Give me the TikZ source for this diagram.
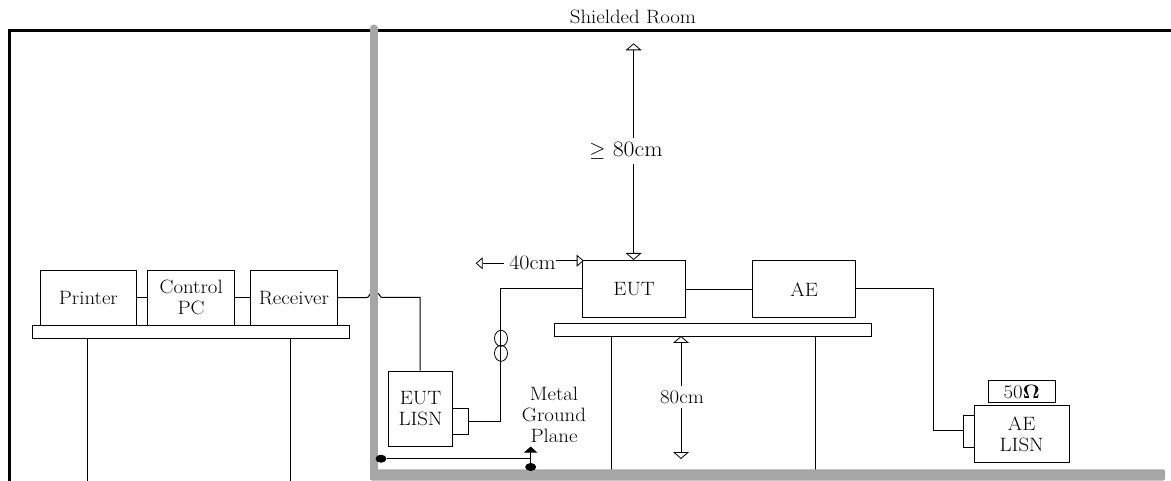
\documentclass[tikz,border=0pt]{standalone}
\usepackage{fontspec}
\setmainfont{Latin Modern Roman}[FakeStretch=1.08]
\usetikzlibrary{arrows.meta,shapes.geometric}
\tikzset{
  x=1pt,y=-1pt,
  wire/.style={draw=black,line width=1pt},
  boxn/.style={draw=black,line width=1pt,fill=white,inner sep=0pt,align=center,font=\fontsize{19.3}{21}\selectfont,anchor=north west},
  lab/.style={inner sep=0pt,align=center,font=\fontsize{19.3}{21}\selectfont},
  wall/.style={draw=black,line width=3pt},
  gwall/.style={draw=black!35,line cap=round,line join=round},
  tipo/.style={-{Triangle[open,fill=white,length=7pt,width=16pt]}},
  tips/.style={-{Triangle[open,fill=white,length=7pt,width=12pt]}},
  dim/.style={draw=black,line width=0.8pt},
  gdot/.style={ellipse,fill=black,draw=none,inner sep=0pt,minimum height=8pt,minimum width=11pt},
  coil/.style={ellipse,draw=black,line width=0.8pt,inner sep=0pt,minimum width=13pt,minimum height=16pt}
}
\begin{document}
\begin{tikzpicture}
\useasboundingbox (0,0) rectangle (1171,481);
% black room outline
\coordinate (wa) at (9,481);
\coordinate (wb) at (9,31);
\coordinate (wc) at (1171,31);
\draw[wall] (wa) -- (wb) -- (wc);
\node[lab] (room) at (633,17) {Shielded Room};
% left table
\node[boxn,minimum width=316.4pt,minimum height=13pt] (ltop) at (32.3,324.7) {};
\coordinate (l1) at (87.7,481);
\coordinate (l2) at (290.7,481);
\draw[wire] (ltop.south -| l1) -- (l1);
\draw[wire] (ltop.south -| l2) -- (l2);
\node[boxn,minimum width=95.7pt,minimum height=55pt] (printer) at (40,269.7) {Printer};
\node[boxn,minimum width=87.3pt,minimum height=55pt] (pc) at (147,269.7) {Control\\PC};
\node[boxn,minimum width=86.7pt,minimum height=55pt] (rcv) at (250,269.7) {Receiver};
\draw[wire] (printer.east) -- (pc.west);
\draw[wire] (pc.east) -- (rcv.west);
% right table
\node[boxn,minimum width=316.7pt,minimum height=12.7pt] (rtop) at (554.3,323.3) {};
\coordinate (r1) at (611.7,470);
\coordinate (r2) at (815.3,470);
\draw[wire] (rtop.south -| r1) -- (r1);
\draw[wire] (rtop.south -| r2) -- (r2);
\node[boxn,minimum width=102.7pt,minimum height=57pt] (eut) at (582.3,260.3) {EUT};
\node[boxn,minimum width=102.7pt,minimum height=57pt] (ae) at (752.3,260.3) {AE};
\draw[wire] (eut.east) -- (ae.west);
% LISNs
\node[boxn,minimum width=63.4pt,minimum height=75.6pt] (elisn) at (388.3,370.7) {EUT\\LISN};
\node[boxn,minimum width=16pt,minimum height=25.4pt] (eport) at (451.7,408.3) {};
\node[boxn,minimum width=95pt,minimum height=56.7pt] (alisn) at (973.7,405.3) {AE\\LISN};
\node[boxn,minimum width=10.7pt,minimum height=31.7pt] (aport) at (963,415.3) {};
\node[boxn,minimum width=67pt,minimum height=22.3pt] (ohm) at (987.7,380) {50\textbf{Ω}};
% wires
\coordinate (hopa) at (367,297.5);
\coordinate (hopb) at (382,297.5);
\coordinate (hopc) at (420,297.5);
\draw[wire] (rcv.east) -- (hopa) .. controls (369,297.5) and (369.5,293.5) .. (371,293.5) -- (378,293.5) .. controls (379.5,293.5) and (380,297.5) .. (hopb) -- (hopc) -- (elisn.north -| hopc);
\coordinate (wsa) at (500.3,289);
\coordinate (wsb) at (500.3,421);
\draw[wire] (eut.west |- wsa) -- (wsa) -- (wsb) -- (eport.east |- wsb);
\coordinate (wra) at (933.5,288.8);
\coordinate (wrb) at (933.5,430.7);
\draw[wire] (ae.east |- wra) -- (wra) -- (wrb) -- (aport.west |- wrb);
\node[coil] (coila) at (501,338.3) {};
\node[coil] (coilb) at (501,353.3) {};
% grey wall over the crossing wire
\coordinate (ga) at (374,28.5);
\coordinate (gb) at (374,472);
\draw[gwall,line width=8pt,line cap=round] (ga) -- (374,460);
\draw[gwall,line width=8pt,line cap=butt] (374,460) -- (gb);
\fill[black!35,rounded corners=2pt] (370,469.3) rectangle (1165,480.5);
% ground
\node[gdot] (gnda) at (381,458.7) {};
\node[gdot] (gndb) at (530.7,467) {};
\coordinate (gndj) at (530.7,458.7);
\coordinate (gndt) at (530.7,446.5);
\draw[wire] (gnda) -- (gndj);
\draw[wire] (gndb) -- (gndj);
\draw[wire,-{Triangle[fill=black,length=6pt,width=13pt]}] (gndj) -- (gndt);
\node[lab] (mgp) at (554,414.5) {Metal\\Ground\\Plane};
% dimensions
\node[lab,fill=white,inner ysep=4pt,font=\fontsize{22}{24}\selectfont] (d80t) at (626,151) {$\geq$\,\,80cm};
\coordinate (d80top) at (633.6,43.3);
\coordinate (d80bot) at (633.6,260);
\draw[dim,tipo] (d80top |- d80t.north) -- (d80top);
\draw[dim,tipo] (d80top |- d80t.south) -- (d80bot);
\node[lab,fill=white,font=\fontsize{20.5}{22}\selectfont] (d40) at (532.5,263) {40cm};
\coordinate (d40l) at (475.7,263.3);
\coordinate (d40r) at (583.7,260.7);
\draw[dim,tips] ([xshift=-5pt]d40.west |- d40l) -- (d40l);
\draw[dim,tips] (d40.east |- d40r) -- (d40r);
\node[lab,fill=white,inner ysep=4pt] (d80c) at (682,397) {80cm};
\coordinate (d80ct) at (681,336);
\coordinate (d80cb) at (681,459);
\draw[dim,tipo] (d80c.north -| d80ct) -- (d80ct);
\draw[dim,tipo] (d80c.south -| d80cb) -- (d80cb);
\end{tikzpicture}
\end{document}
